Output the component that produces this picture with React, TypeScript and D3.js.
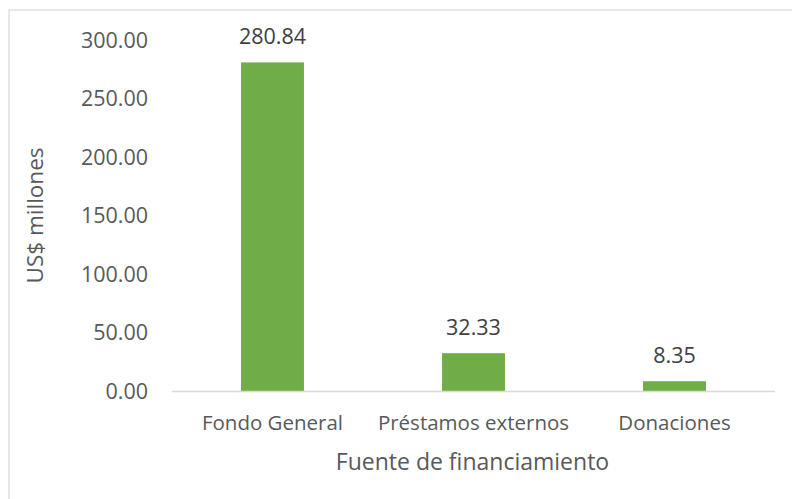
import React from "react";
import * as d3 from "d3";

const categories = ["Fondo General", "Préstamos externos", "Donaciones"];
const values = [280.84, 32.33, 8.35];
const yTicks = [0, 50, 100, 150, 200, 250, 300];
const yTitle = "US$ millones";
const xTitle = "Fuente de financiamiento";

const W = 792;
const H = 499;
const FONT = "'Open Sans', 'Noto Sans', sans-serif";

export default function App() {
  const x = d3.scaleBand<string>().domain(categories).range([172, 775]).paddingInner(0.687).paddingOuter(0.3435);
  const y = d3.scaleLinear().domain([0, 300]).range([391, 40]);
  const fmt = d3.format(".2f");

  return (
    <svg width={W} height={H} style={{ position: "absolute", left: 0, top: 0, background: "#fff" }} fontFamily={FONT}>
      <rect x={9} y={10} width={W} height={H} fill="#fff" stroke="#D9D9D9" strokeWidth={1.2} />
      {yTicks.map((t) => (
        <text key={t} x={148} y={y(t)} dy="0.35em" textAnchor="end" fontSize={21.5} fill="#595959">
          {fmt(t)}
        </text>
      ))}
      {categories.map((c, i) => (
        <g key={c}>
          <rect x={x(c)} y={y(values[i])} width={x.bandwidth()} height={y(0) - y(values[i])} fill="#70AD47" />
          <text x={(x(c) as number) + x.bandwidth() / 2} y={y(values[i]) - 18.5} textAnchor="middle" fontSize={21.5} fill="#404040">
            {fmt(values[i])}
          </text>
          <text x={(x(c) as number) + x.bandwidth() / 2} y={423} dy="0.35em" textAnchor="middle" fontSize={20.5} fill="#595959">
            {c}
          </text>
        </g>
      ))}
      <line x1={172} x2={775} y1={y(0) + 0.5} y2={y(0) + 0.5} stroke="#D9D9D9" strokeWidth={1.5} />
      <text x={472.5} y={462} dy="0.35em" textAnchor="middle" fontSize={23} fill="#595959">
        {xTitle}
      </text>
      <text transform={`translate(35, ${(y(0) + y(300)) / 2}) rotate(-90)`} dy="0.35em" textAnchor="middle" fontSize={22.5} fill="#595959">
        {yTitle}
      </text>
    </svg>
  );
}
